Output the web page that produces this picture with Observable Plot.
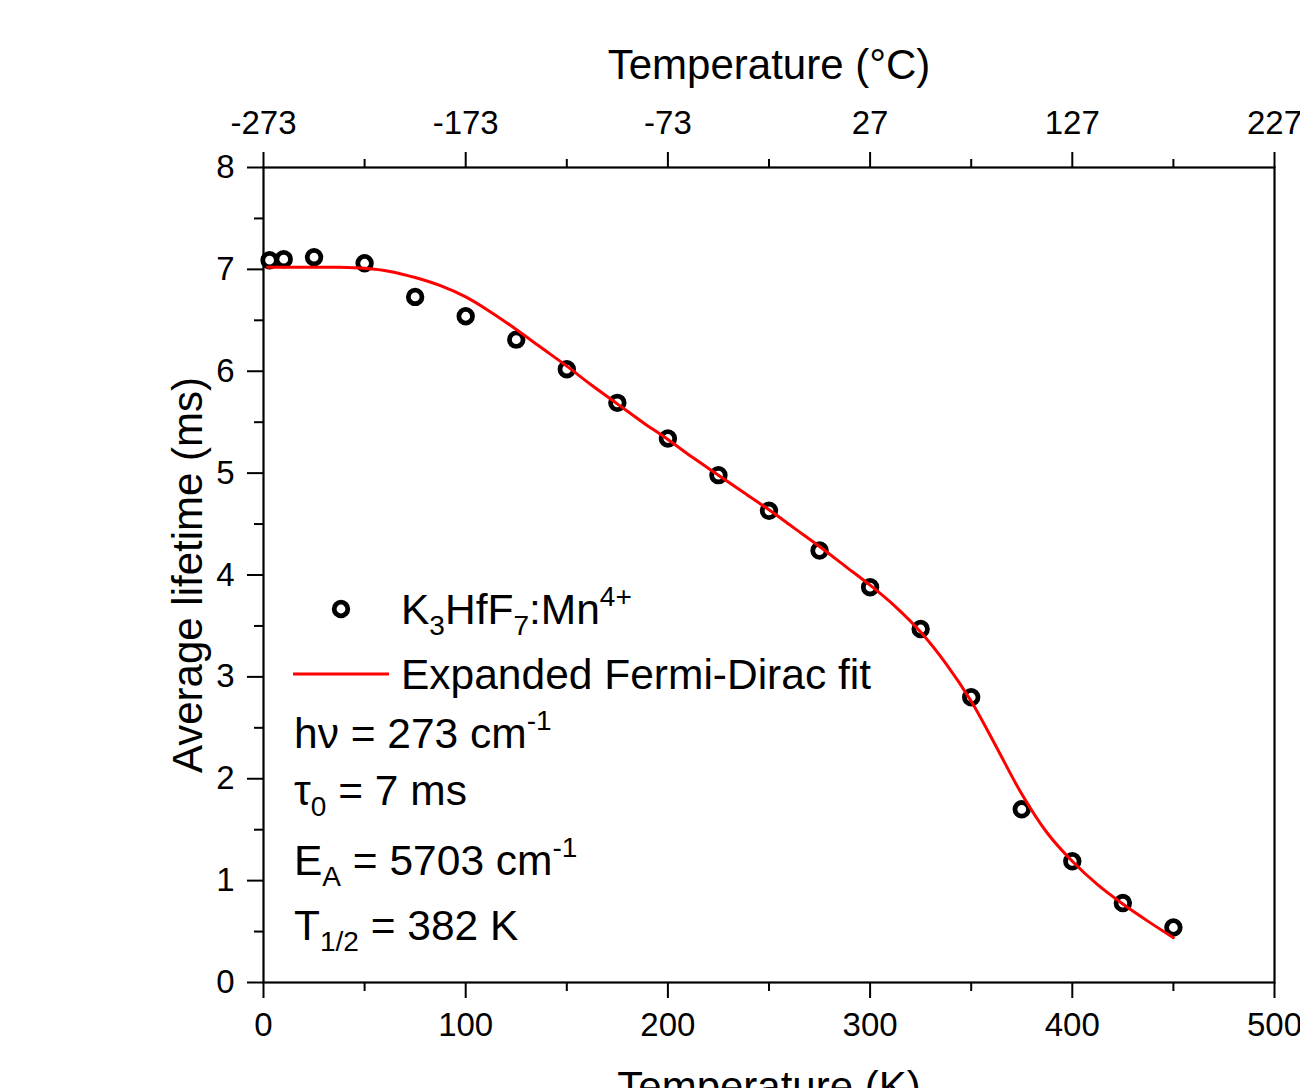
<!DOCTYPE html>
<html>
<head>
<meta charset="utf-8">
<script src="https://cdn.jsdelivr.net/npm/d3@7"></script>
<script src="https://cdn.jsdelivr.net/npm/@observablehq/plot@0.6"></script>
<style>
  html, body { margin: 0; padding: 0; background: white; }
  #chart svg { display: block; }
</style>
</head>
<body>
<div id="chart"></div>
<script>
// Measured data (K3HfF7:Mn4+)
const tempK = [3, 10, 25, 50, 75, 100, 125, 150, 175, 200, 225, 250, 275, 300, 325, 350, 375, 400, 425, 450];
const lifetime = [7.09, 7.10, 7.12, 7.06, 6.73, 6.54, 6.31, 6.02, 5.69, 5.34, 4.98, 4.63, 4.24, 3.88, 3.47, 2.80, 1.70, 1.19, 0.78, 0.54];

// Expanded Fermi-Dirac fit curve
const fitK = [2, 25, 37.5, 50, 62.5, 75, 87.5, 100, 112.5, 125, 137.5, 150, 162.5, 175, 187.5, 200, 212.5, 225, 237.5, 250, 262.5, 275, 287.5, 300, 312.5, 325, 337.5, 350, 362.5, 375, 387.5, 400, 412.5, 425, 437.5, 450];
const fitTau = [7.02, 7.02, 7.02, 7.01, 6.98, 6.92, 6.84, 6.73, 6.58, 6.41, 6.23, 6.05, 5.86, 5.68, 5.50, 5.33, 5.15, 4.98, 4.81, 4.64, 4.46, 4.28, 4.09, 3.90, 3.69, 3.44, 3.13, 2.76, 2.31, 1.85, 1.47, 1.19, 0.96, 0.77, 0.60, 0.44];

// Axis ticks
const majorX = [0, 100, 200, 300, 400, 500];
const minorX = [50, 150, 250, 350, 450];
const majorY = [0, 1, 2, 3, 4, 5, 6, 7, 8];
const minorY = [0.5, 1.5, 2.5, 3.5, 4.5, 5.5, 6.5, 7.5];

const xLabel = "Temperature (K)";
const topLabel = "Temperature (°C)";
const yLabel = "Average lifetime (ms)";

const points = tempK.map((t, i) => ({t, tau: lifetime[i]}));
const fit = fitK.map((t, i) => ({t, tau: fitTau[i]}));

const FONT = "'Liberation Sans', Arial, Helvetica, sans-serif";

const chart = Plot.plot({
  width: 1300,
  height: 1088,
  marginLeft: 263,
  marginRight: 26,
  marginTop: 167,
  marginBottom: 106,
  x: {domain: [0, 500]},
  y: {domain: [0, 8]},
  style: {fontFamily: FONT, color: "black", background: "white", overflow: "visible"},
  marks: [
    Plot.axisX({anchor: "bottom", ticks: majorX, tickSize: 16, tickPadding: 14, fontSize: 33, strokeWidth: 2, label: null, tickFormat: d => String(d)}),
    Plot.axisX({anchor: "bottom", ticks: minorX, tickSize: 9, strokeWidth: 2, label: null, fill: "none"}),
    Plot.axisX({anchor: "top", ticks: majorX, tickSize: 16, tickPadding: 18, fontSize: 33, strokeWidth: 2, label: null, tickFormat: d => String(d - 273)}),
    Plot.axisX({anchor: "top", ticks: minorX, tickSize: 9, strokeWidth: 2, label: null, fill: "none"}),
    Plot.axisY({anchor: "left", ticks: majorY, tickSize: 16, tickPadding: 13, fontSize: 33, strokeWidth: 2, label: null, tickFormat: d => String(d)}),
    Plot.axisY({anchor: "left", ticks: minorY, tickSize: 9, strokeWidth: 2, label: null, fill: "none"}),
    Plot.frame({stroke: "black", strokeWidth: 2.2}),
    Plot.dot(points, {x: "t", y: "tau", r: 6.8, stroke: "black", strokeWidth: 4.8, fill: "none"}),
    Plot.line(fit, {x: "t", y: "tau", stroke: "#ff0000", strokeWidth: 3, curve: "catmull-rom"}),
    Plot.text([xLabel], {frameAnchor: "bottom", textAnchor: "middle", lineAnchor: "middle", dy: 105, fontSize: 42, fill: "black"}),
    Plot.text([topLabel], {frameAnchor: "top", textAnchor: "middle", lineAnchor: "middle", dy: -102, fontSize: 42, fill: "black"}),
    Plot.text([yLabel], {frameAnchor: "left", textAnchor: "middle", lineAnchor: "middle", dx: -75, rotate: -90, fontSize: 42, fill: "black"})
  ]
});

document.getElementById("chart").appendChild(chart);

// Legend and fit parameters (rich text with sub/superscripts)
const svg = d3.select(chart);
const g = svg.append("g")
  .attr("font-family", FONT)
  .attr("font-size", 42.5)
  .attr("fill", "black")
  .attr("text-anchor", "start");

g.append("circle").attr("cx", 341).attr("cy", 609).attr("r", 6.8)
  .attr("fill", "none").attr("stroke", "black").attr("stroke-width", 4.8);
g.append("line").attr("x1", 293).attr("x2", 389).attr("y1", 674).attr("y2", 674)
  .attr("stroke", "#ff0000").attr("stroke-width", 3);

function rich(x, y, parts) {
  const t = g.append("text").attr("x", x).attr("y", y).attr("text-anchor", "start");
  let pending = 0;
  for (const p of parts) {
    const [s, kind] = Array.isArray(p) ? p : [p, null];
    const shift = kind === "sub" ? 11 : kind === "sup" ? -18 : 0;
    const ts = t.append("tspan").text(s).attr("dy", pending + shift);
    if (kind) ts.attr("font-size", 28);
    pending = -shift;
  }
}

rich(401, 624, ["K", ["3", "sub"], "HfF", ["7", "sub"], ":Mn", ["4+", "sup"]]);
rich(401, 689, ["Expanded Fermi-Dirac fit"]);
rich(294, 748, ["h\u03bd = 273 cm", ["-1", "sup"]]);
rich(294, 805, ["\u03c4", ["0", "sub"], " = 7 ms"]);
rich(294, 875, ["E", ["A", "sub"], " = 5703 cm", ["-1", "sup"]]);
rich(294, 940, ["T", ["1/2", "sub"], " = 382 K"]);
</script>
</body>
</html>
